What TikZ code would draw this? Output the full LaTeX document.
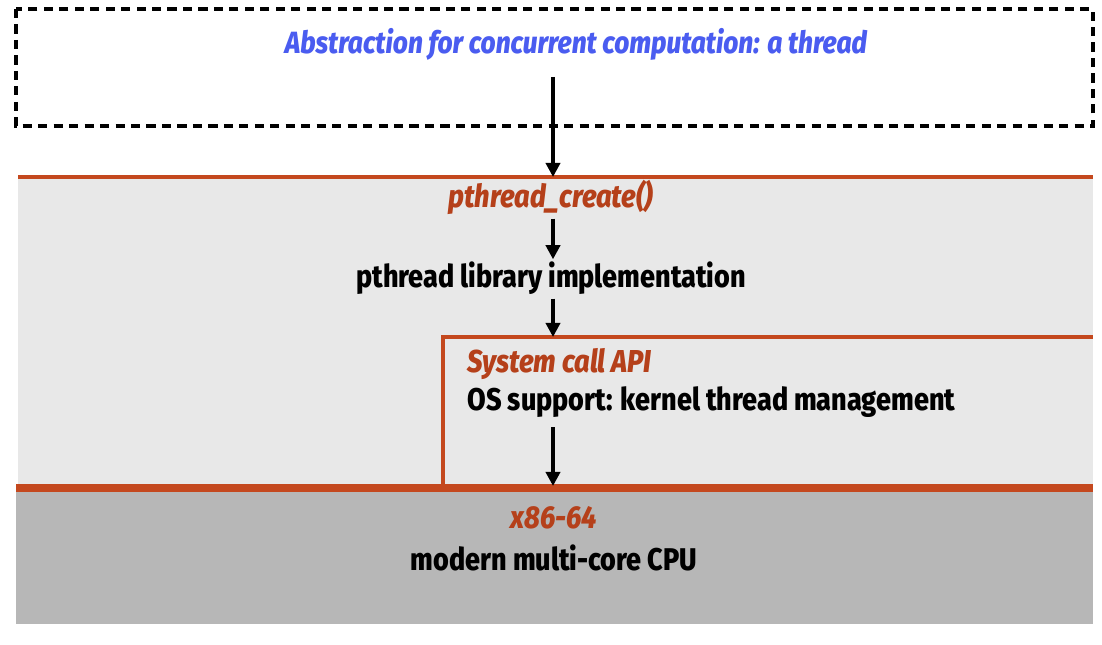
\documentclass[tikz,border=0pt]{standalone}
\usepackage{fontspec}
\setmainfont{Fira Sans}[FakeStretch=0.86,
  BoldFont={Fira Sans ExtraBold}, BoldItalicFont={Fira Sans ExtraBold Italic}]
\usepackage{tikz}
\usetikzlibrary{arrows.meta}

\definecolor{absblue}{HTML}{4A5CF0}
\definecolor{apired}{HTML}{B5401A}
\definecolor{layerline}{HTML}{C4481E}
\definecolor{lightlayer}{HTML}{E8E8E8}
\definecolor{darklayer}{HTML}{B7B7B7}

\tikzset{
  apitext/.style={text=apired, font=\bfseries\itshape\fontsize{22.5}{24}\selectfont,
    anchor=base, text height=16.5pt, text depth=5pt, inner sep=3pt},
  layertext/.style={font=\bfseries\fontsize{22.3}{24}\selectfont,
    anchor=base, text height=16.5pt, text depth=5pt, inner sep=3pt},
  flow/.style={-{Triangle[width=10pt,length=10pt]}, line width=2.6pt},
}

\begin{document}
\begin{tikzpicture}[x=0.025cm, y=-0.025cm]
                \useasboundingbox (0,0) rectangle (1102,644);

                % layers
                \fill[lightlayer] (18,177) rectangle (1093,488);
                \fill[darklayer] (16,488) rectangle (1093,624);
                \draw[dash pattern=on 6.5pt off 4.5pt, line width=2.8pt] (16,9) rectangle (1093,126);
                \draw[layerline, line width=2.6pt] (18,177) -- (1093,177);
                \draw[layerline, line width=2.6pt] (443,488) -- (443,337) -- (1093,337);
                \draw[layerline, line width=5pt] (16,488) -- (1093,488);

                \coordinate (apitop) at (553,177);
                \coordinate (systop) at (553,337);
                \coordinate (hwtop) at (553,486);

                \node[layertext, text=absblue, font=\bfseries\itshape\fontsize{21.8}{24}\selectfont] (abs) at (576,54) {Abstraction for concurrent computation: a thread};
                \node[apitext] (create) at (551,207) {pthread\_create()};
                \node[layertext] (lib) at (551,287) {pthread library implementation};
                \node[apitext, anchor=base west] (syscall) at (463,372) {System call API};
                \node[layertext, anchor=base west] (os) at (463,410) {OS support: kernel thread management};
                \node[apitext] (isa) at (554,528) {x86-64};
                \node[layertext] (cpu) at (554,570) {modern multi-core CPU};

                \draw[flow, shorten <=8pt] (abs.south -| apitop) -- (apitop);
                \draw[flow] (create.south -| apitop) -- (lib.north -| apitop);
                \draw[flow] (lib.south -| systop) -- (systop);
                \draw[flow, shorten <=4pt] (os.south -| hwtop) -- (hwtop);
            \end{tikzpicture}
\end{document}
